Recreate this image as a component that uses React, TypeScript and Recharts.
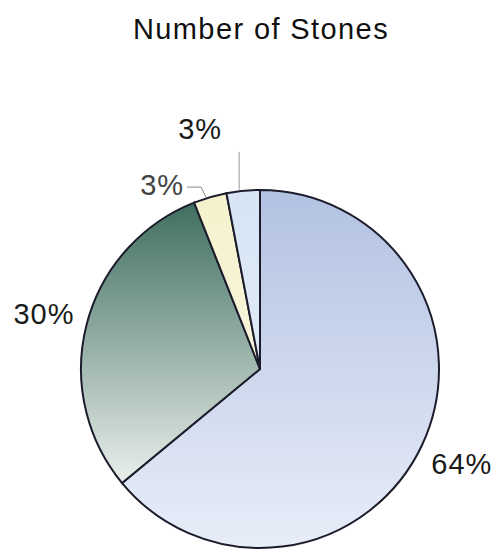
import React from "react";
import { PieChart, Pie, Cell } from "recharts";

const categories = ["A", "B", "C", "D"];
const values = [64, 30, 3, 3];
const labels = ["64%", "30%", "3%", "3%"];
const gradients = [
  ["#b2c2e2", "#e8edf8"],
  ["#3f6e5f", "#eaefeb"],
  ["#f4f2cc", "#f8f6dc"],
  ["#d6e4f4", "#e2ecf8"],
];

const data = categories.map((c, i) => ({ name: c, value: values[i] }));

const RAD = Math.PI / 180;
const FONT = "'Liberation Sans', Arial, sans-serif";

const renderLabel = (props: any) => {
  const { cx, cy, midAngle, outerRadius, index } = props;
  const cos = Math.cos(-midAngle * RAD);
  const sin = Math.sin(-midAngle * RAD);
  const ex = cx + outerRadius * cos;
  const ey = cy + outerRadius * sin;
  const common = { fontFamily: FONT, fontSize: 29, fill: "#1a1a1a", letterSpacing: 1 } as const;
  if (index === 0 || index === 1) {
    const r = outerRadius + 44;
    return (
      <text
        key={index}
        x={cx + r * cos}
        y={cy + r * sin}
        textAnchor="middle"
        dominantBaseline="central"
        {...common}
      >
        {labels[index]}
      </text>
    );
  }
  if (index === 2) {
    return (
      <g key={index}>
        <polyline
          points={`${ex - 4},${ey} ${ex - 9},${ey - 10} ${ex - 23},${ey - 10}`}
          fill="none"
          stroke="#888"
          strokeWidth={1}
        />
        <text
          x={ex - 26}
          y={ey - 12}
          textAnchor="end"
          dominantBaseline="central"
          {...common}
          fill="#444"
        >
          {labels[index]}
        </text>
      </g>
    );
  }
  return (
    <g key={index}>
      <line x1={ex - 4} y1={ey - 1} x2={ex - 4} y2={ey - 39} stroke="#999" strokeWidth={1} />
      <text
        x={ex - 43}
        y={ey - 62}
        textAnchor="middle"
        dominantBaseline="central"
        {...common}
      >
        {labels[index]}
      </text>
    </g>
  );
};

export default function App() {
  return (
    <div style={{ position: "fixed", left: 0, top: 0, width: 498, height: 550, background: "#fff" }}>
      <div
        style={{
          position: "absolute",
          left: 0,
          top: 14,
          width: 522,
          textAlign: "center",
          fontFamily: FONT,
          fontSize: 29,
          letterSpacing: 1.4,
          color: "#111",
          lineHeight: "30px",
          whiteSpace: "nowrap",
        }}
      >
        Number of Stones
      </div>
      <PieChart
        width={498}
        height={550}
        margin={{ top: 0, right: 0, bottom: 0, left: 0 }}
        style={{ position: "absolute", left: 0, top: 0 }}
      >
        <defs>
          {gradients.map((g, i) => (
            <linearGradient key={i} id={`grad${i}`} x1="0" y1="0" x2="0" y2="1">
              <stop offset="0%" stopColor={g[0]} />
              <stop offset="100%" stopColor={g[1]} />
            </linearGradient>
          ))}
        </defs>
        <Pie
          data={data}
          dataKey="value"
          nameKey="name"
          cx={260}
          cy={369}
          outerRadius={179}
          startAngle={90}
          endAngle={-270}
          stroke="#1c1c2c"
          strokeWidth={2}
          label={renderLabel}
          labelLine={false}
          isAnimationActive={false}
        >
          {data.map((d, i) => (
            <Cell key={d.name} fill={`url(#grad${i})`} />
          ))}
        </Pie>
      </PieChart>
    </div>
  );
}
